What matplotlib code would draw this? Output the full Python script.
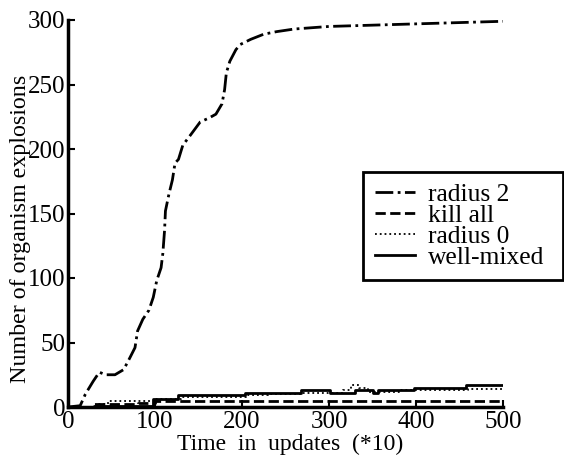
import matplotlib
matplotlib.use("Agg")
import matplotlib.pyplot as plt

# radius 2 (dash-dot)
r2_x = [0, 14, 20, 29, 36, 43, 54, 64, 71, 77, 80, 86, 93, 98, 102, 107, 109, 111, 112, 116, 120, 123, 127, 132, 141, 152, 162, 170, 177, 180, 182, 186, 193, 198, 210, 225, 240, 260, 300, 350, 400, 450, 500]
r2_y = [0, 1, 10, 20, 27, 25, 25, 29, 38, 46, 59, 68, 75, 85, 98, 108, 119, 137, 152, 165, 176, 189, 192, 203, 211, 221, 224, 227, 235, 246, 259, 268, 277, 281, 285, 289, 291, 293, 295, 296, 297, 298, 299]

# kill all (dashed, steps)
ka_x = [0, 30, 80, 100, 500]
ka_y = [0, 2, 3, 5, 5]

# radius 0 (dotted)
r0_x = [0, 33, 46, 80, 100, 130, 205, 230, 268, 300, 316, 325, 335, 345, 380, 398, 460, 500]
r0_y = [0, 2, 5, 5, 6, 8, 9, 10, 11, 11, 13, 17, 15, 12, 13, 13, 14, 14]

# well-mixed (solid, steps)
wm_x = [0, 30, 98, 127, 203, 268, 301, 330, 351, 356, 398, 458, 500]
wm_y = [0, 1, 6, 9, 11, 13, 11, 13, 11, 13, 15, 17, 17]

xticks = [0, 100, 200, 300, 400, 500]
yticks = [0, 50, 100, 150, 200, 250, 300]

plt.rcParams['font.family'] = ['Liberation Serif', 'DejaVu Serif']

fig = plt.figure(figsize=(5.64, 4.59), dpi=100)
ax = fig.add_axes([68/564, 1-407/459, (503-68)/564, (407-20)/459])

ax.plot(r2_x, r2_y, color='black', linestyle='-.', linewidth=2, label='radius 2')
ax.plot(ka_x, ka_y, color='black', linestyle='--', linewidth=2, drawstyle='steps-post', label='kill all')
ax.plot(r0_x, r0_y, color='black', linestyle=':', linewidth=1.3, drawstyle='steps-post', label='radius 0')
ax.plot(wm_x, wm_y, color='black', linestyle='-', linewidth=2, drawstyle='steps-post', label='well-mixed')

ax.set_xlim(0, 500)
ax.set_ylim(0, 300)
ax.set_xticks(xticks)
ax.set_yticks(yticks)
ax.tick_params(direction='in', length=5, width=1.5, labelsize=18)
ax.tick_params(axis='y', pad=2)
ax.tick_params(axis='x', pad=3)
for s in ['top', 'right']:
    ax.spines[s].set_visible(False)
for s in ['left', 'bottom']:
    ax.spines[s].set_linewidth(2.5)

ax.set_xlabel('Time  in  updates  (*10)', fontsize=17)
ax.xaxis.set_label_coords(0.51, (407-434)/387)
ax.set_ylabel('Number of organism explosions', fontsize=17.3)
ax.yaxis.set_label_coords(-0.085, 0.46)

leg = fig.legend(loc='upper left',
                 bbox_to_anchor=(363/564, 1-284/459, 200/564, 112/459),
                 mode='expand', fontsize=18.4,
                 frameon=True, fancybox=False, edgecolor='black', framealpha=1,
                 handlelength=1.6, labelspacing=-0.08, borderpad=0.45, handletextpad=0.5,
                 borderaxespad=0)
leg.get_frame().set_linewidth(2)

fig.savefig('out.png', dpi=100)
